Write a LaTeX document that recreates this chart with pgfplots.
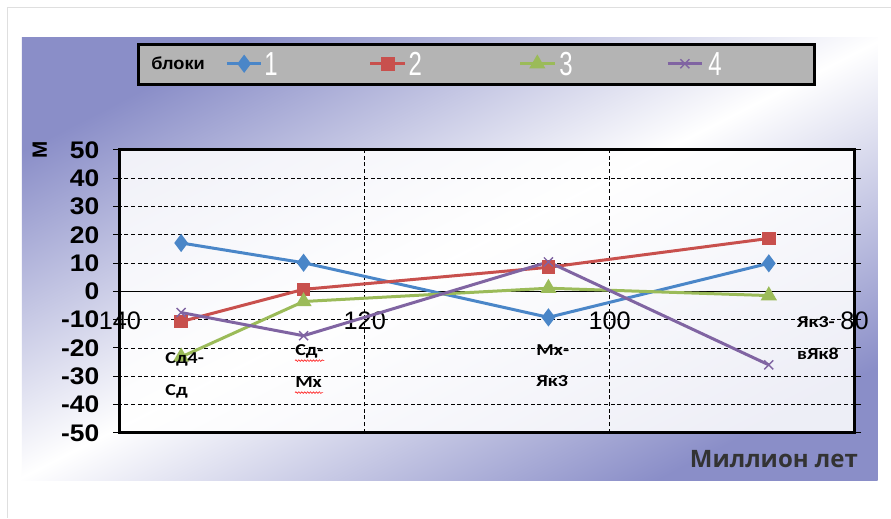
\documentclass[border=0pt]{standalone}
\usepackage{fontspec}
\setmainfont{Liberation Sans}
\newfontfamily\carlito{Carlito}
\newfontfamily\opensans{Open Sans}
\usepackage{pgfplots}
\pgfplotsset{compat=1.18}
\usetikzlibrary{decorations.pathmorphing}
\definecolor{s1}{HTML}{4A86C8}
\definecolor{s2}{HTML}{C8504D}
\definecolor{s3}{HTML}{9BBB59}
\definecolor{s4}{HTML}{8064A2}
\definecolor{bgdark}{HTML}{8A8EC8}
\definecolor{leggray}{HTML}{B4B4B4}
\newcommand{\sx}[1]{\scalebox{1.2}[1]{#1}}
\newcommand{\num}[1]{\fontsize{25}{25}\selectfont\scalebox{0.72}[1]{#1}}
\pgfplotsset{geom/.style={at={(90pt,63.75pt)}, anchor=south west, scale only axis,
  width=551.25pt, height=212.25pt, x dir=reverse, xmin=80, xmax=140, ymin=-50, ymax=50}}
\begin{document}
\begin{tikzpicture}[x=0.75pt,y=0.75pt]
\fill[white] (0,0) rectangle (891,518);
\draw[gray!25, line width=0.75pt] (8,0) -- (8,510) -- (891,510);
\shade[top color=bgdark, bottom color=bgdark, middle color=white, shading angle=27] (22,37) rectangle (878,480);
\begin{axis}[
  geom,
  xtick={80,100,120,140}, xticklabels={80,100,120,140},
  ytick={-50,-40,...,50},
  yticklabels={-50,-40,-30,-20,-10,0,10,20,30,40,50},
  axis line style={line width=2.25pt, black},
  axis background/.style={fill=white, fill opacity=0.85},
  xmajorgrids, ymajorgrids,
  major grid style={densely dashed, black, line width=0.5pt},
  tick align=outside, major tick length=5pt,
  xtick style={draw=none},
  ytick style={black, line width=0.75pt},
  y tick label style={font=\bfseries\fontsize{18}{18}\selectfont, xscale=1.1, xshift=-6pt},
  x tick label style={font=\fontsize{19}{19}\selectfont, anchor=center, yshift=89pt},
  ylabel={М}, ylabel style={font=\bfseries\fontsize{15.5}{15.5}\selectfont, at={(axis description cs:-0.109,1)}, anchor=center},
  xlabel={Миллион лет}, xlabel style={font=\opensans\bfseries\fontsize{18}{18}\selectfont, text=black!80, at={(axis description cs:1.011,-0.092)}, anchor=east},
  extra y ticks={0}, extra y tick labels={}, extra y tick style={grid=major, major grid style={solid, black, line width=0.9pt}, major tick length=0pt},
  legend columns=-1,
  legend style={at={(0.0231,1.378)}, anchor=north west, fill=leggray, draw=black, line width=2.25pt,
    text=white, column sep=0pt, inner xsep=9.75pt, inner ysep=3.5pt,
    nodes={inner xsep=0pt, inner ysep=2pt, anchor=base west}},
  legend image code/.code={\draw[mark repeat=2,mark phase=2,#1] plot coordinates {(0pt,8.5pt) (13pt,8.5pt) (26pt,8.5pt)};},
]
\addlegendimage{empty legend}
\addplot[s1, line width=2.25pt, mark=diamond*, mark size=5pt] coordinates {(135,17.1) (125,10.1) (105,-9.2) (87,9.9)};
\addplot[s2, line width=2.25pt, mark=square*, mark size=4pt] coordinates {(135,-10.7) (125,0.7) (105,8.5) (87,18.7)};
\addplot[s3, line width=2.25pt, mark=triangle*, mark size=4.8pt] coordinates {(135,-23.2) (125,-3.6) (105,1.1) (87,-1.5)};
\addplot[s4, line width=2.25pt, mark=x, mark size=4.8pt, mark options={line width=1pt}] coordinates {(135,-7.5) (125,-15.7) (105,10.4) (87,-26)};
\legend{\makebox[55.5pt][l]{\raisebox{4pt}{\textcolor{black}{\bfseries\fontsize{13}{13}\selectfont\scalebox{1.05}[1]{блоки}}}},
  \makebox[79.5pt][l]{\hspace{1pt}\num{1}},
  \makebox[84pt][l]{\hspace{1.5pt}\num{2}},
  \makebox[82.5pt][l]{\hspace{2.5pt}\num{3}},
  \makebox[73pt][l]{\hspace{3.5pt}\num{4}}}
\end{axis}
\begin{axis}[geom, hide axis, clip=false]
\node[anchor=north west, align=left, inner sep=0pt, font=\carlito\bfseries\fontsize{12.5}{24}\selectfont] at (axis cs:136.3,-21.7) {\sx{Сд4-}\\\sx{Сд}};
\node[anchor=north west, align=left, inner sep=0pt, font=\carlito\bfseries\fontsize{12.5}{24}\selectfont] at (axis cs:125.7,-18.6) {\sx{Сд-}\\\sx{Мх}};
\node[anchor=north west, align=left, inner sep=0pt, font=\carlito\bfseries\fontsize{12.5}{24}\selectfont] at (axis cs:106,-18.6) {\sx{Мх-}\\\sx{Як3}};
\node[anchor=north west, align=left, inner sep=0pt, font=\carlito\bfseries\fontsize{12.5}{24}\selectfont] at (axis cs:84.7,-9) {\sx{Як3-}\\\sx{вЯк8}};
\draw[red!85, line width=0.5pt, decorate, decoration={snake, amplitude=0.6pt, segment length=2.2pt}] (axis cs:125.7,-24.5) -- (axis cs:123.3,-24.5);
\draw[red!85, line width=0.5pt, decorate, decoration={snake, amplitude=0.6pt, segment length=2.2pt}] (axis cs:125.7,-35.8) -- (axis cs:123.4,-35.8);
\end{axis}
\end{tikzpicture}
\end{document}
